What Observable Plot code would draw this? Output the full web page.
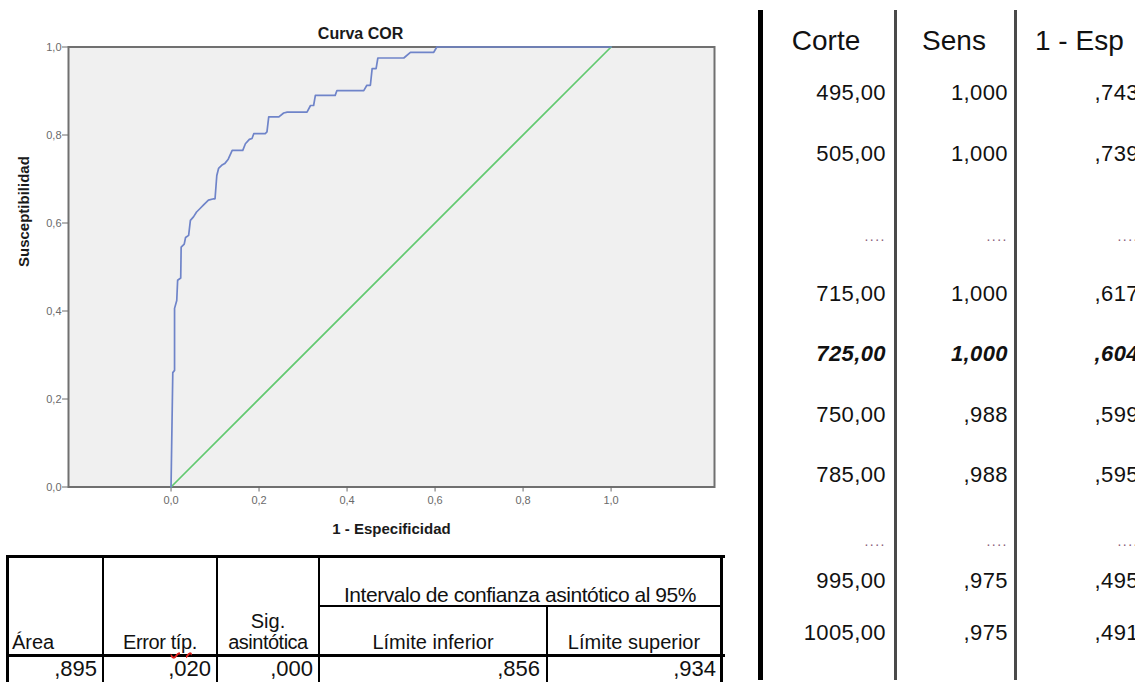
<!DOCTYPE html>
<html>
<head>
<meta charset="utf-8">
<script src="https://cdn.jsdelivr.net/npm/d3@7"></script>
<script src="https://cdn.jsdelivr.net/npm/@observablehq/plot@0.6"></script>
<style>
  html, body { margin: 0; padding: 0; background: #fff; }
  body { width: 1135px; height: 682px; overflow: hidden; position: relative;
         font-family: "Liberation Sans", Arial, sans-serif; }
  #chart { position: absolute; left: 0; top: 0; }
  .cell { position: absolute; white-space: nowrap; line-height: 1; color: #111; }
  .rule { position: absolute; background: #000; }
  .tip { text-decoration: underline wavy #e3231f; text-decoration-thickness: 1.5px;
         text-underline-offset: 3px; }
</style>
</head>
<body>
<div id="chart"></div>
<div id="tables"></div>
<script>
// ROC curve vertices (1 - especificidad, susceptibilidad)
const fpr  = [0, 0.004, 0.008, 0.008, 0.013, 0.015, 0.022, 0.023, 0.030, 0.033, 0.040, 0.044, 0.051,
              0.058, 0.066, 0.074, 0.085, 0.097, 0.100, 0.104, 0.108, 0.115, 0.122, 0.130, 0.139,
              0.163, 0.169, 0.178, 0.184, 0.188, 0.214, 0.218, 0.222, 0.245, 0.256, 0.264, 0.309,
              0.317, 0.324, 0.328, 0.373, 0.377, 0.438, 0.445, 0.453, 0.457, 0.466, 0.470, 0.529,
              0.544, 0.597, 0.604, 1.0];
const sens = [0, 0.260, 0.265, 0.406, 0.424, 0.470, 0.475, 0.545, 0.552, 0.567, 0.572, 0.606, 0.614,
              0.625, 0.633, 0.641, 0.652, 0.655, 0.655, 0.708, 0.724, 0.731, 0.735, 0.745, 0.765,
              0.765, 0.780, 0.790, 0.792, 0.803, 0.803, 0.807, 0.841, 0.841, 0.850, 0.852, 0.852,
              0.867, 0.867, 0.890, 0.890, 0.901, 0.901, 0.913, 0.913, 0.951, 0.951, 0.975, 0.975,
              0.988, 0.988, 1.0, 1.0];
// Reference diagonal
const diagX = [0, 1];
const diagY = [0, 1];
const xTicks = [0, 0.2, 0.4, 0.6, 0.8, 1.0];
const yTicks = [0, 0.2, 0.4, 0.6, 0.8, 1.0];

// Área bajo la curva
const aucValues = [",895", ",020", ",000", ",856", ",934"];

// Coordenadas de la curva
const cutoffs      = ["495,00", "505,00", "....", "715,00", "725,00", "750,00", "785,00", "....", "995,00", "1005,00"];
const sensitivity  = ["1,000", "1,000", "....", "1,000", "1,000", ",988", ",988", "....", ",975", ",975"];
const oneMinusSpec = [",743", ",739", "....", ",617", ",604", ",599", ",595", "....", ",495", ",491"];
const highlightRow = 4;

// ---------- chart ----------
const roc  = fpr.map((x, i) => ({x, y: sens[i]}));
const diag = diagX.map((x, i) => ({x, y: diagY[i]}));
const fmt = d => d3.format(".1f")(d).replace(".", ",");
const font = '"Liberation Sans", Arial, sans-serif';

const chart = Plot.plot({
  width: 730,
  height: 545,
  marginLeft: 68,
  marginRight: 16,
  marginTop: 46.5,
  marginBottom: 58.5,
  x: {domain: [-0.233, 1.235]},
  y: {domain: [0, 1]},
  style: {fontFamily: font, background: "transparent", overflow: "visible"},
  marks: [
    Plot.frame({fill: "#f0f0f0", stroke: "#707070", strokeWidth: 2}),
    Plot.axisX({ticks: xTicks, tickFormat: fmt, tickSize: 5, tickPadding: 4, fontSize: 11,
                color: "#6a6a6a", label: null}),
    Plot.axisY({ticks: yTicks, tickFormat: fmt, tickSize: 6, tickPadding: 1, fontSize: 11,
                color: "#6a6a6a", label: null}),
    Plot.line(diag, {x: "x", y: "y", stroke: "#62c970", strokeWidth: 1.7}),
    Plot.line(roc, {x: "x", y: "y", stroke: "#6f84c9", strokeWidth: 1.7}),
    Plot.text(["Curva COR"], {frameAnchor: "top", lineAnchor: "middle", dx: -31, dy: -13.5,
                              fontSize: 16, fontWeight: "bold", fill: "#1a1a1a"}),
    Plot.text(["1 - Especificidad"], {frameAnchor: "bottom", lineAnchor: "middle", dy: 42.5,
                                      fontSize: 15, fontWeight: "bold", fill: "#1a1a1a"}),
    Plot.text(["Susceptibilidad"], {frameAnchor: "left", lineAnchor: "middle", dx: -44, rotate: -90,
                                    fontSize: 15, fontWeight: "bold", fill: "#1a1a1a"})
  ]
});
document.getElementById("chart").append(chart);

// ---------- tables ----------
const host = document.getElementById("tables");
function rule(x, y, w, h, color) {
  const d = document.createElement("div");
  d.className = "rule";
  Object.assign(d.style, {left: x + "px", top: y + "px", width: w + "px", height: h + "px"});
  if (color) d.style.background = color;
  host.append(d);
}
function cell(html, x, y, {anchor = "middle", size = 21, weight = "normal", italic = false,
                            color = null, spacing = 0} = {}) {
  const d = document.createElement("div");
  d.className = "cell";
  d.innerHTML = html;
  const tx = anchor === "middle" ? "-50%" : anchor === "end" ? "-100%" : "0";
  Object.assign(d.style, {left: x + "px", top: y + "px", fontSize: size + "px", fontWeight: weight,
                          fontStyle: italic ? "italic" : "normal", letterSpacing: spacing + "px",
                          transform: `translate(${tx}, -50%)`});
  if (color) d.style.color = color;
  host.append(d);
}

// Área table grid
const colX = [8, 103, 217, 319, 547, 722];
rule(6, 555, 719, 3);                 // top border
rule(6, 555, 3, 127);                 // left border
rule(720, 555, 3, 127);               // right border
rule(colX[1] - 1, 555, 2, 127);
rule(colX[2] - 1, 555, 2, 127);
rule(colX[3] - 1, 555, 2, 127);
rule(colX[4] - 1, 606, 2, 76);
rule(colX[3] - 1, 605, 405, 2);       // under the spanning header
rule(6, 654, 719, 3);                 // header / body separator

cell("Intervalo de confianza asintótico al 95%", 520, 594, {size: 21, spacing: -0.45});
cell("Sig.", 268, 621, {size: 20});
cell("Área", 12, 642, {anchor: "start", size: 20});
cell('Error <span class="tip">típ</span>.', 160, 642, {size: 20, spacing: -0.4});
cell("asintótica", 268, 642, {size: 20, spacing: -0.5});
cell("Límite inferior", 433, 642, {size: 20});
cell("Límite superior", 634, 642, {size: 20});
const aucRight = [97, 211, 313, 540, 716];
aucValues.forEach((v, i) => cell(v, aucRight[i], 669, {anchor: "end", size: 22}));

// Cut-off table grid
rule(758, 10, 5, 670);
rule(894, 10, 3, 670, "#4a4a4a");
rule(1014, 10, 3, 670, "#4a4a4a");
cell("Corte", 826, 41, {size: 28});
cell("Sens", 954, 41, {size: 28});
cell("1 - Esp", 1035, 41, {anchor: "start", size: 28});

const rowY = [93, 154, 237, 293.5, 354, 415, 475, 542, 581, 633];
const colRight = [886, 1008, 1139];
[cutoffs, sensitivity, oneMinusSpec].forEach((col, c) => {
  col.forEach((v, r) => {
    if (v === "....") {
      cell(v, colRight[c], rowY[r] - 1, {anchor: "end", size: 14, color: "#8a5e7a", spacing: 1.5});
    } else {
      const hi = r === highlightRow;
      cell(v, colRight[c], rowY[r], {anchor: "end", size: 22, spacing: 0.4,
                                     weight: hi ? "bold" : "normal", italic: hi});
    }
  });
});
</script>
</body>
</html>
